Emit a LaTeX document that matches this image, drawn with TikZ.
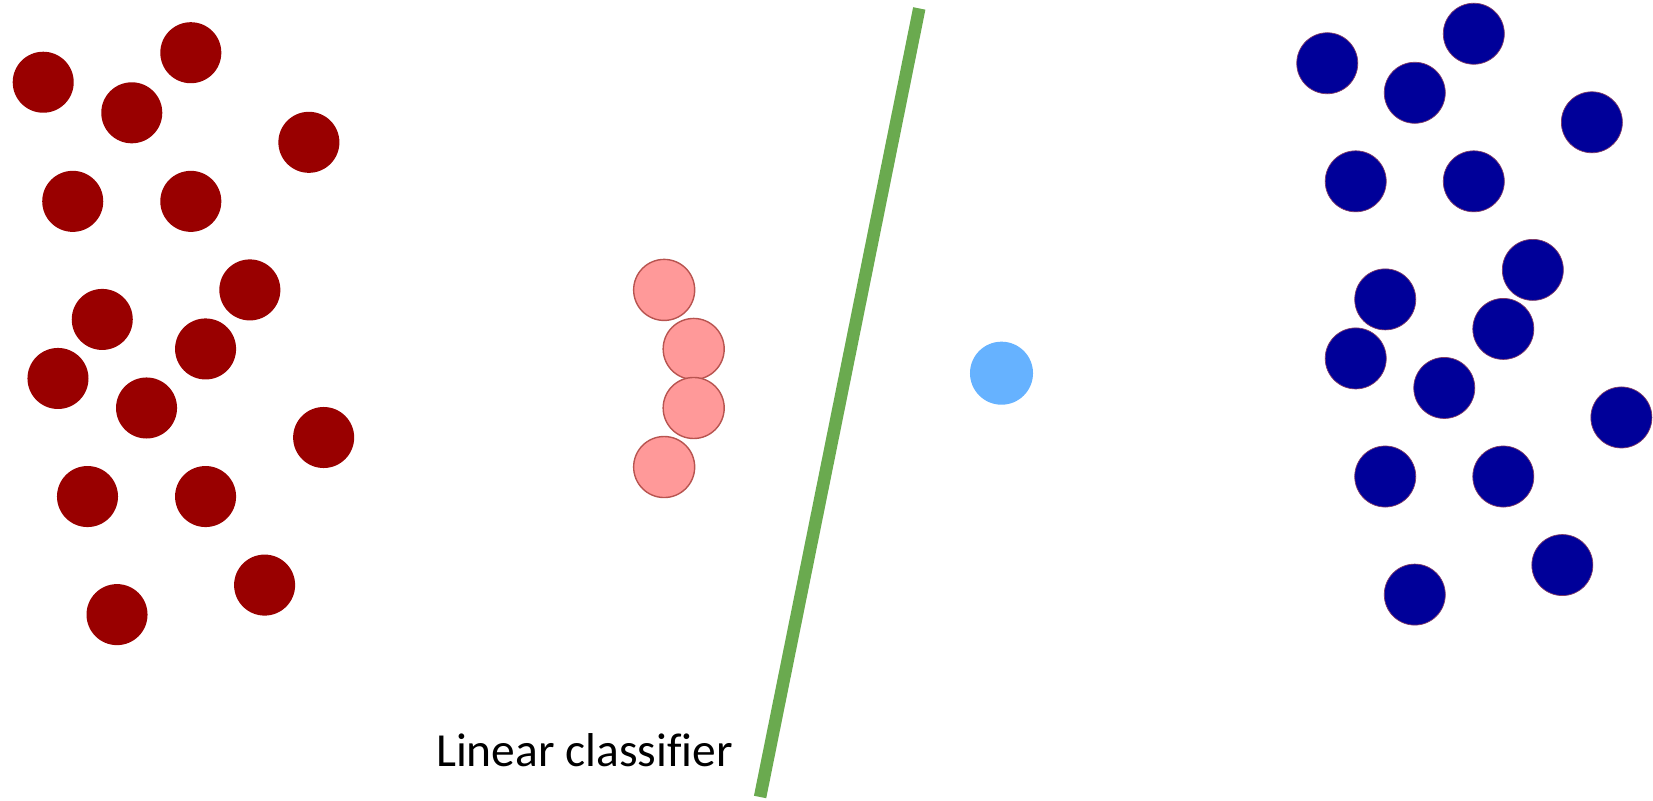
\documentclass[tikz,border=0pt]{standalone}
\usepackage{fontspec}
\setmainfont{Carlito}[Ligatures=NoCommon]
\usepackage{tikz}
\usetikzlibrary{positioning}
\definecolor{darkred}{HTML}{990000}
\definecolor{darkblue}{HTML}{000099}
\definecolor{pinkfill}{HTML}{FF9999}
\definecolor{pinkline}{HTML}{B85450}
\definecolor{skyblue}{HTML}{66B2FF}
\definecolor{sepgreen}{HTML}{6AAA4F}

\begin{document}
\begin{tikzpicture}[
      x=0.02108cm, y=-0.02108cm,
      dot/.style={circle, minimum size=1.22cm, inner sep=0pt},
      reddot/.style={dot, fill=darkred},
      bluedot/.style={dot, fill=darkblue, draw=pinkline!70!darkblue, line width=0.4pt},
      pinkdot/.style={dot, fill=pinkfill, draw=pinkline, line width=0.8pt},
      query/.style={dot, fill=skyblue, minimum size=1.26cm},
      sepline/.style={draw=sepgreen, line width=2.5mm},
      lbl/.style={font=\fontsize{27}{32}\selectfont}
    ]
    \useasboundingbox (0,0) rectangle (1568,759);

    % class A
    \foreach \px/\py [count=\i] in {41/78, 181/50, 125/107, 293/135, 69/191,
        181/191, 237/275, 97/303, 195/331, 55/359, 139/387, 307/415,
        83/471, 195/471, 251/555, 111/583}
      \node[reddot] (r\i) at (\px,\py) {};

    % class B
    \foreach \px/\py [count=\i] in {1259/60, 1398/32, 1342/88, 1510/116,
        1286/172, 1398/172, 1454/256, 1314/284, 1426/312, 1286/340,
        1370/368, 1538/396, 1314/452, 1426/452, 1482/536, 1342/564}
      \node[bluedot] (b\i) at (\px,\py) {};

    % shifted points
    \node[pinkdot] (p1) at (630,275) {};
    \node[pinkdot] (p2) at (658,331) {};
    \node[pinkdot] (p3) at (658,387) {};
    \node[pinkdot] (p4) at (630,443) {};

    % new point
    \node[query] (q) at (950,354) {};

    % classifier
    \coordinate (top) at (872,8);
    \coordinate (bot) at (721,756);
    \draw[sepline] (top) -- (bot);
    \node[lbl, anchor=east] (clf) at (701,712) {Linear classifier};
  \end{tikzpicture}
\end{document}
